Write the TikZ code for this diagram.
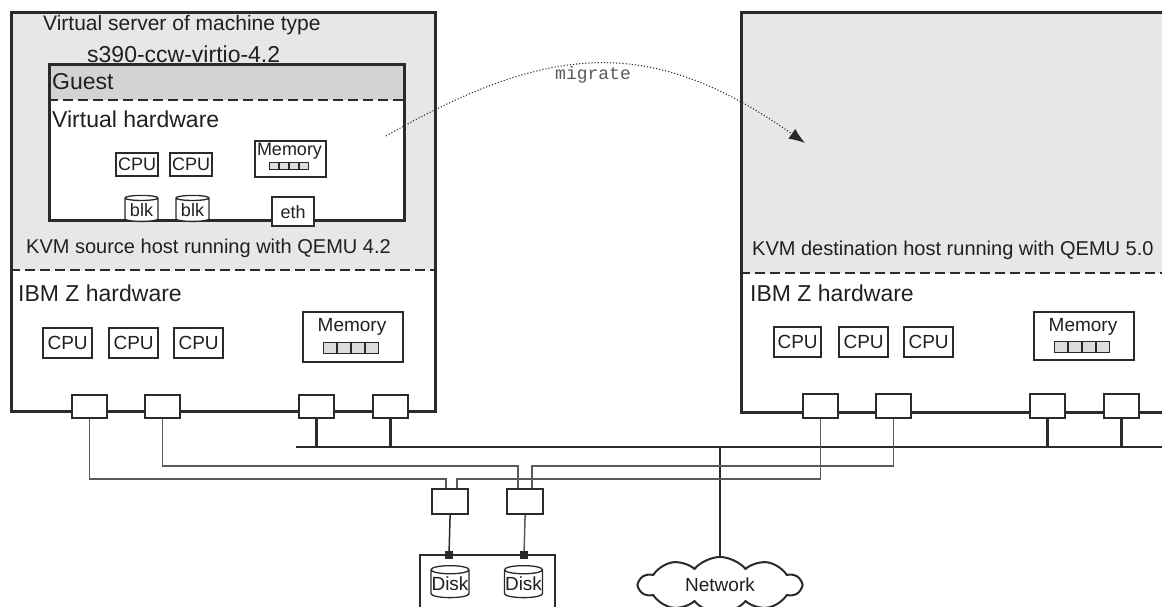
\documentclass[tikz,border=0pt]{standalone}
\usepackage{fontspec}
\setmainfont{Liberation Sans}
\newfontfamily\monofont{Liberation Mono}
\usetikzlibrary{shapes.geometric,shapes.symbols,arrows.meta}
\definecolor{hostgray}{HTML}{E6E7E8}
\definecolor{guestgray}{HTML}{D1D3D4}
\definecolor{edge}{HTML}{2A2A2A}
\definecolor{wire}{HTML}{5A5A5A}
\definecolor{memcell}{HTML}{DDDDDD}
\definecolor{ink}{HTML}{231F20}
\newcommand{\fsz}[1]{\fontsize{#1}{#1}\selectfont}
\begin{document}
\begin{tikzpicture}[x=1pt,y=-1pt,
  every node/.style={text=ink},
  outerbox/.style={draw=edge,line width=3.2pt,inner sep=0pt,anchor=north west},
  box/.style={draw=edge,line width=2.2pt,fill=white,inner sep=0pt,anchor=north west},
  portbox/.style={box,minimum width=35pt,minimum height=23pt},
  vcpu/.style={box,minimum width=42pt,minimum height=23pt,font=\fsz{18}},
  hcpu/.style={box,minimum width=49pt,minimum height=30pt,font=\fsz{19}},
  cyl/.style={cylinder,shape border rotate=90,aspect=0.22,draw=edge,line width=1.3pt,fill=white,inner sep=0pt},
  lbl/.style={anchor=west,inner sep=0pt},
  sepline/.style={draw=edge,line width=2.2pt,dash pattern=on 10pt off 5pt},
  bus/.style={draw=edge,line width=2.4pt},
  wireline/.style={draw=wire,line width=1.4pt},
  cell/.style={draw=edge,line width=0.7pt,fill=memcell}
]
\useasboundingbox (0,0) rectangle (1162,607);
\clip (0,0) rectangle (1162,607);

% ---------- source host ----------
\fill[hostgray] (10,11) rectangle (434,270);
\draw[sepline] (10,270) -- (434,270);
\node[outerbox,minimum width=424pt,minimum height=399pt] (src) at (10,11) {};

\node[lbl,font=\fsz{21}] (vstitle) at (43,25) {Virtual server of machine type};
\node[lbl,font=\fsz{23}] (mtype) at (87,54) {s390-ccw-virtio-4.2};

% guest box
\fill[guestgray] (48,63) rectangle (403,100);
\fill[white] (48,100) rectangle (403,219);
\draw[sepline] (48,100) -- (403,100);
\node[outerbox,line width=2.8pt,minimum width=355pt,minimum height=156pt] (guest) at (48,63) {};
\node[lbl,font=\fsz{23}] (guestlbl) at (52,82) {Guest};
\node[lbl,font=\fsz{23}] (vhwlbl) at (52,119) {Virtual hardware};

\node[vcpu] (vcpu1) at (115,152) {CPU};
\node[vcpu] (vcpu2) at (169,152) {CPU};
\node[box,minimum width=71pt,minimum height=36pt] (vmem) at (254,140) {};
\node[inner sep=0pt,font=\fsz{18}] (vmemtxt) at (289.5,151) {Memory};
\foreach \i in {0,1,2,3}{\draw[cell] (269+\i*10,162) rectangle (278+\i*10,169);}

\node[cyl,minimum width=33pt,minimum height=26pt,font=\fsz{18}] (blk1) at (141.5,210) {blk};
\node[cyl,minimum width=33pt,minimum height=26pt,font=\fsz{18}] (blk2) at (192.5,210) {blk};
\node[box,minimum width=42pt,minimum height=29pt,font=\fsz{18}] (eth) at (271,196) {eth};

\node[lbl,font=\fsz{20}] (srchost) at (26,248) {KVM source host running with QEMU 4.2};

% source hardware
\node[lbl,font=\fsz{23}] (hw1) at (18,293) {IBM Z hardware};
\node[hcpu] (hcpu1) at (42,327) {CPU};
\node[hcpu] (hcpu2) at (108,327) {CPU};
\node[hcpu] (hcpu3) at (173,327) {CPU};
\node[box,minimum width=100pt,minimum height=50pt] (hmem1) at (302,311) {};
\node[inner sep=0pt,font=\fsz{19}] (hmem1txt) at (352,327) {Memory};
\foreach \i in {0,1,2,3}{\draw[cell] (323+\i*14,342) rectangle (336+\i*14,353);}

\node[portbox] (p1) at (71,394) {};
\node[portbox] (p2) at (144,394) {};
\node[portbox] (p3) at (298,394) {};
\node[portbox] (p4) at (372,394) {};

% ---------- destination host ----------
\fill[hostgray] (740,11) rectangle (1175,273);
\draw[sepline] (740,273) -- (1175,273);
\node[outerbox,minimum width=435pt,minimum height=400pt] (dst) at (740,11) {};
\node[lbl,font=\fsz{20}] (dsthost) at (752,250) {KVM destination host running with QEMU 5.0};
\node[lbl,font=\fsz{23}] (hw2) at (750,293) {IBM Z hardware};
\node[hcpu,minimum width=47pt] (hcpu4) at (773,326) {CPU};
\node[hcpu] (hcpu5) at (838,326) {CPU};
\node[hcpu] (hcpu6) at (903,326) {CPU};
\node[box,minimum width=100pt,minimum height=48pt] (hmem2) at (1033,311) {};
\node[inner sep=0pt,font=\fsz{19}] (hmem2txt) at (1083,327) {Memory};
\foreach \i in {0,1,2,3}{\draw[cell] (1054+\i*14,341) rectangle (1067+\i*14,352);}

\node[portbox,minimum height=24pt] (p5) at (802,393) {};
\node[portbox,minimum height=24pt] (p6) at (875,393) {};
\node[portbox,minimum height=24pt] (p7) at (1029,393) {};
\node[portbox,minimum height=24pt] (p8) at (1103,393) {};

% ---------- network bus ----------
\coordinate (busL) at (296,447);
\coordinate (busR) at (1162,447);
\draw[bus] (busL) -- (busR);
\foreach \p in {p3,p4,p7,p8}{\draw[bus] (\p.south) -- (\p.south |- busL);}

\node[cloud,cloud puffs=10,cloud puff arc=100,aspect=3.4,draw=edge,line width=2pt,fill=white,
      minimum width=162pt,minimum height=56pt,inner sep=0pt,font=\fsz{19}] (net) at (720,585) {Network};
\coordinate (netTap) at (720,447);
\draw[bus] (netTap) -- (net.north);

% ---------- storage ----------
\node[box,minimum width=36pt,minimum height=25pt] (sw1) at (431,488) {};
\node[box,minimum width=36pt,minimum height=25pt] (sw2) at (506,488) {};

\coordinate (w1) at (446,479);
\coordinate (w2) at (518,466);
\coordinate (w3) at (457,479);
\coordinate (w4) at (532,466);
\draw[wireline] (p1.south) |- (w1) -- (w1 |- sw1.north);
\draw[wireline] (p2.south) |- (w2) -- (w2 |- sw2.north);
\draw[wireline] (p5.south) |- (w3) -- (w3 |- sw1.north);
\draw[wireline] (p6.south) |- (w4) -- (w4 |- sw2.north);

\node[box,minimum width=135pt,minimum height=80pt] (stor) at (419,554) {};
\node[fill=edge,minimum size=8pt,inner sep=0pt] (c1) at (449,555) {};
\node[fill=edge,minimum size=8pt,inner sep=0pt] (c2) at (524,555) {};
\draw[draw=edge,line width=1.5pt] (sw1.south) -- (c1);
\draw[wireline,line width=1.5pt] (sw2.south) -- (c2);
\node[cyl,minimum width=38pt,minimum height=32pt,font=\fsz{19}] (disk1) at (450,584) {Disk};
\node[cyl,minimum width=38pt,minimum height=32pt,font=\fsz{19}] (disk2) at (523.5,584) {Disk};

% ---------- migrate arrow ----------
\coordinate (migS) at (386,136);
\coordinate (migE) at (805,143);
\draw[edge,dotted,line width=1.1pt,-{Latex[length=16pt,width=12pt]}] (migS) .. controls (556,39) and (655,38) .. (migE);
\node[inner sep=0pt,font=\monofont\fsz{18},text=wire] (miglbl) at (593,75) {migrate};
\end{tikzpicture}
\end{document}
